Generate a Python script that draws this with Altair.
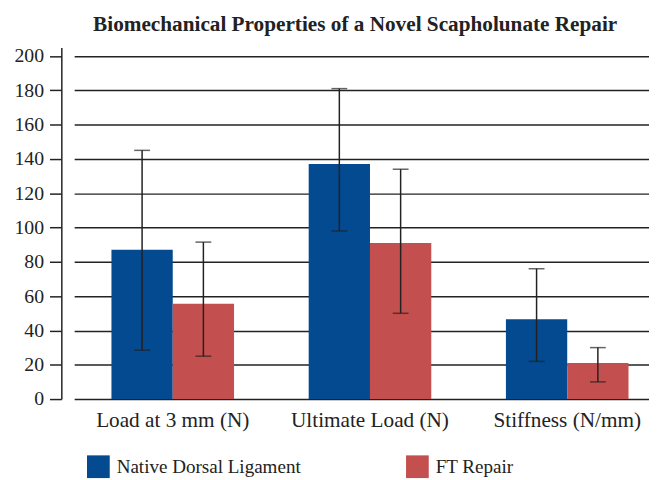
import altair as alt
import pandas as pd

categories = ["Load at 3 mm (N)", "Ultimate Load (N)", "Stiffness (N/mm)"]
series = ["Native Dorsal Ligament", "FT Repair"]
native_mean = [87, 137, 46.5]
native_low = [28.5, 98, 22]
native_high = [145, 181, 76]
ft_mean = [55.5, 91, 21]
ft_low = [25, 50, 10]
ft_high = [91.5, 134, 30]
y_ticks = [0, 20, 40, 60, 80, 100, 120, 140, 160, 180, 200]
colors = ["#034a91", "#c3504e"]

rows = []
for i, c in enumerate(categories):
    rows.append({"cat": c, "series": series[0], "mean": native_mean[i], "lo": native_low[i], "hi": native_high[i]})
    rows.append({"cat": c, "series": series[1], "mean": ft_mean[i], "lo": ft_low[i], "hi": ft_high[i]})
df = pd.DataFrame(rows)

FONT = "Liberation Serif"

x_scale = alt.Scale(range=[13, 612], paddingInner=0.3785, paddingOuter=0.189)
x_axis = alt.Axis(labelFont=FONT, labelFontSize=21.5, labelColor="#222",
                  labelAngle=0, ticks=False, domain=False, labelPadding=11)
y_scale = alt.Scale(domain=[0, 205], nice=False)
y_axis = alt.Axis(values=y_ticks, tickCount=11, labelFont=FONT, labelFontSize=20, labelColor="#222",
                  labelOverlap=False,
                  tickSize=12, tickColor="#222", tickWidth=1.5,
                  domainColor="#222", domainWidth=1.5,
                  gridColor="#222", gridWidth=1.5, labelPadding=6)

def X():
    return alt.X("cat:N", sort=categories, title=None, scale=x_scale, axis=x_axis)

def XO():
    return alt.XOffset("series:N", sort=series, scale=alt.Scale(paddingInner=0, paddingOuter=0))

def Y(field):
    return alt.Y(field, title=None, scale=y_scale, axis=y_axis)

bars = alt.Chart(df).mark_bar().encode(
    x=X(),
    xOffset=XO(),
    y=Y("mean:Q"),
    color=alt.Color("series:N", sort=series, title=None,
                    scale=alt.Scale(domain=series, range=colors),
                    legend=alt.Legend(orient="none", legendX=26, legendY=413,
                                      direction="horizontal", symbolType="square",
                                      symbolSize=529, symbolStrokeWidth=0,
                                      labelFont=FONT, labelFontSize=19.3, labelColor="#222",
                                      labelOffset=7, labelLimit=400, columnPadding=106,
                                      padding=0)),
)

err = alt.Chart(df).mark_rule(color="#222", strokeWidth=1.5).encode(
    x=X(),
    xOffset=XO(),
    y=Y("lo:Q"),
    y2="hi:Q",
)

cap_lo = alt.Chart(df).mark_tick(color="#222", thickness=1.5, size=16, orient="horizontal").encode(
    x=X(),
    xOffset=XO(),
    y=Y("lo:Q"),
)
cap_hi = alt.Chart(df).mark_tick(color="#222", thickness=1.5, size=16, orient="horizontal").encode(
    x=X(),
    xOffset=XO(),
    y=Y("hi:Q"),
)

chart = alt.layer(bars, err, cap_lo, cap_hi).properties(
    width=595, height=356,
    title=alt.TitleParams("Biomechanical Properties of a Novel Scapholunate Repair",
                          font=FONT, fontSize=21.5, fontWeight="bold", color="#222",
                          anchor="middle", offset=11),
    autosize=alt.AutoSizeParams(type="none"),
    padding={"left": 54, "top": 37, "right": 0, "bottom": 79},
).configure_view(stroke=None).configure_axis(grid=True).configure_axisX(grid=False)

chart.save("out.html", embed_options={"renderer": "svg", "actions": False})
